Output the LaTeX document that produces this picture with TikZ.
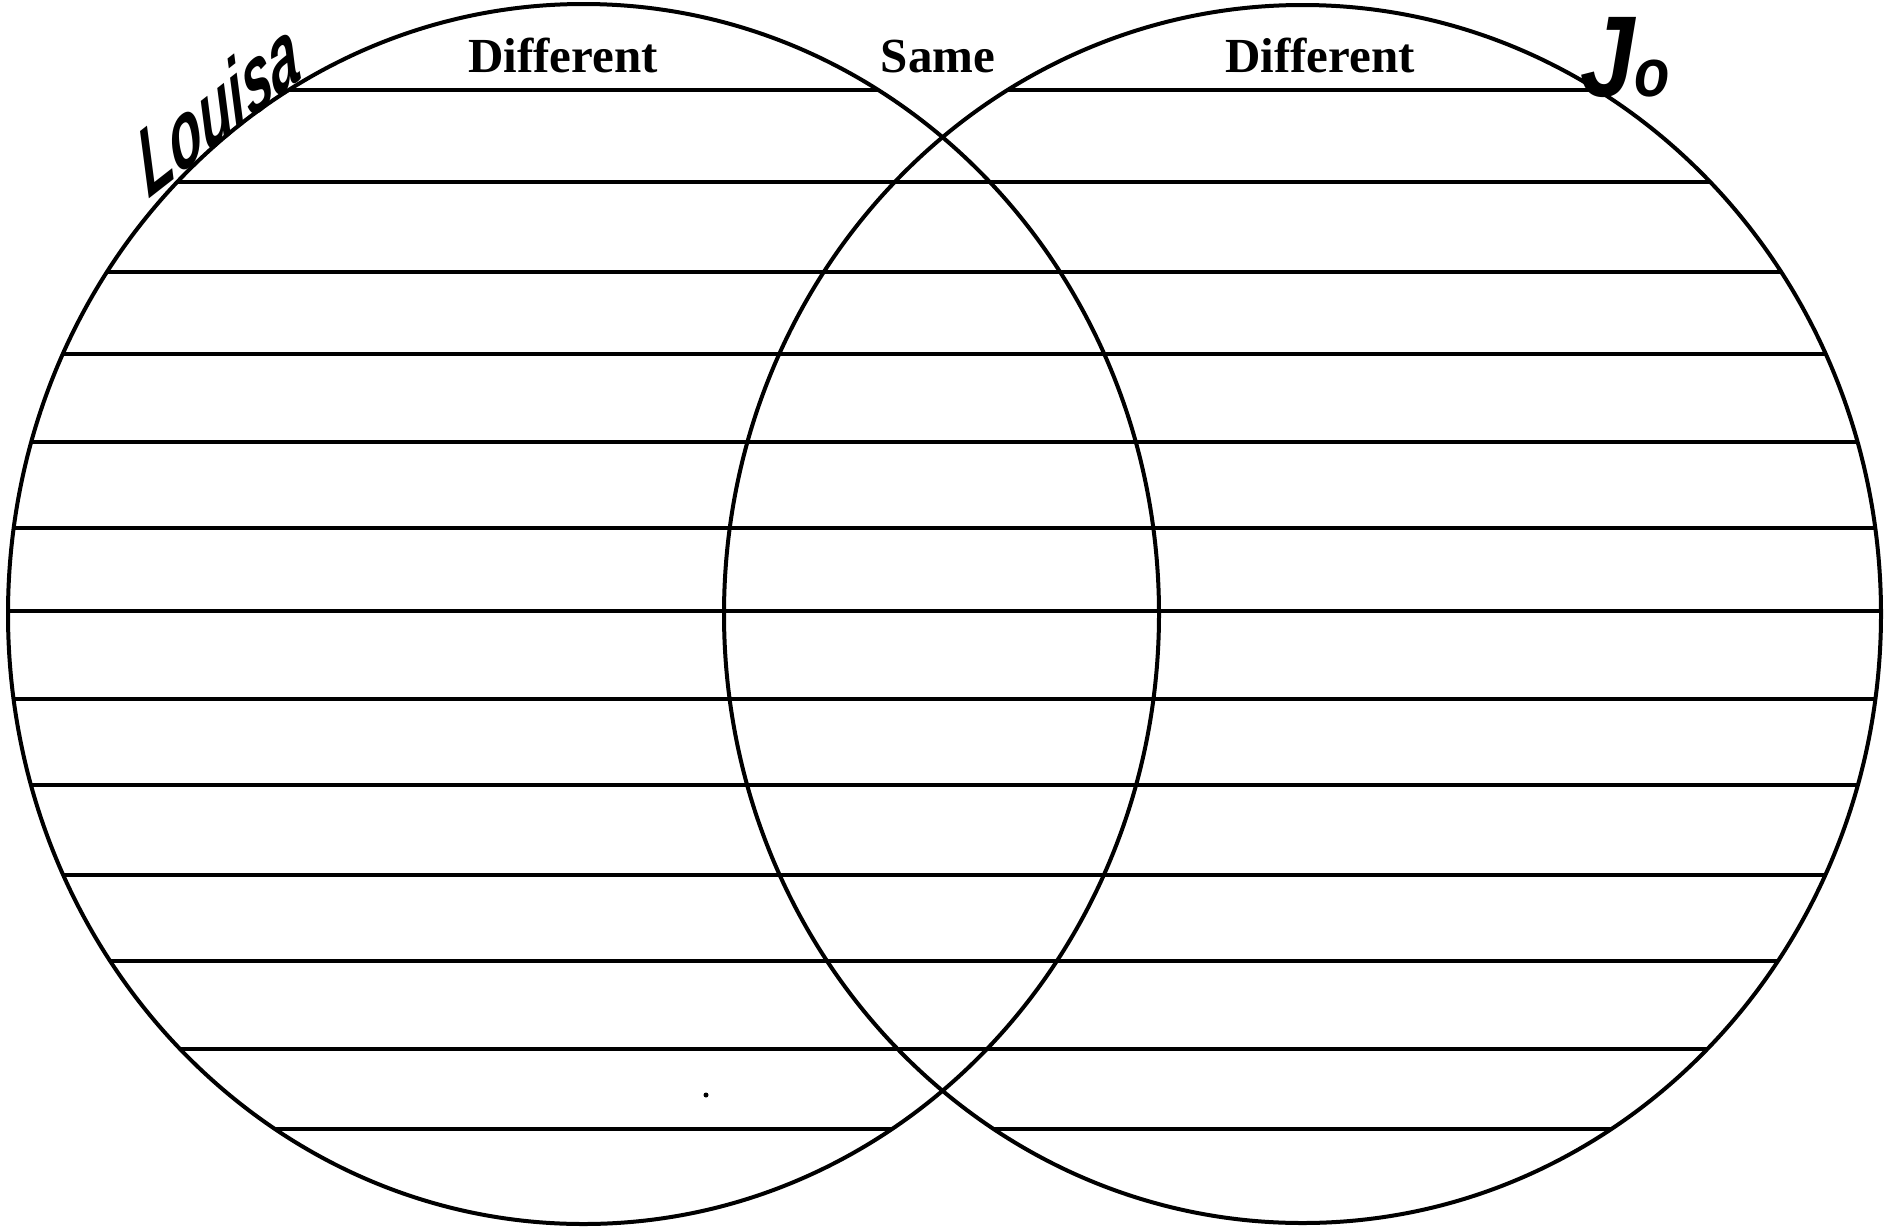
\documentclass[tikz,border=0pt]{standalone}
\usepackage{fontspec}
\setmainfont{Liberation Serif}
\newfontfamily\handfont{Liberation Sans}
\begin{document}
\begin{tikzpicture}[x=1pt,y=-1pt,
  ring/.style={line width=4pt},
  rulerow/.style={line width=3.4pt},
  head/.style={font=\fontsize{49}{50}\selectfont\bfseries, anchor=base, inner sep=0pt},
  hand/.style={font=\handfont\bfseries\itshape, inner sep=0pt}
]
\useasboundingbox (0,0) rectangle (1890,1229);
\fill[white] (0,0) rectangle (1890,1229);
\begin{scope}
  \clip (583.5,614) ellipse [x radius=575.5pt, y radius=610pt]
        (1302.5,614) ellipse [x radius=578.5pt, y radius=609pt];
  \foreach \yy in {90,182,272,354,442,528,611,699,785,875,961,1049,1129}
    \draw[rulerow] (0,\yy) -- (1890,\yy);
\end{scope}
\draw[ring] (583.5,614) ellipse [x radius=575.5pt, y radius=610pt];
\draw[ring] (1302.5,614) ellipse [x radius=578.5pt, y radius=609pt];
\node[head] (diffL) at (563,72) {Different};
\node[head] (same) at (938,72) {Same};
\node[head] (diffR) at (1320,72) {Different};
\node[hand, font=\handfont\bfseries\itshape\fontsize{85}{85}\selectfont, rotate=38, xslant=0.45, xscale=0.72] (louisa) at (218,106) {Louisa};
\node[hand, xscale=0.85, anchor=base] (jo) at (1625,96) {{\fontsize{115}{115}\selectfont J}{\fontsize{68}{68}\selectfont o}};
\fill (706,1095) circle (2.5pt);
\end{tikzpicture}
\end{document}
